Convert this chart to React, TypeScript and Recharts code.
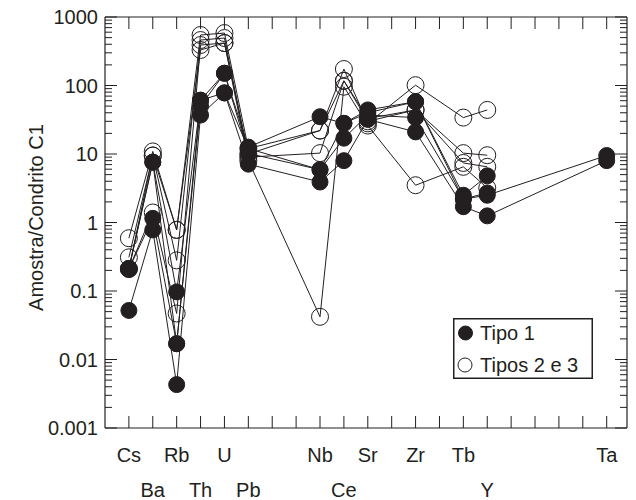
import { Legend, Line, LineChart, ReferenceLine, XAxis, YAxis } from 'recharts'

// Diagrama multielementar normalizado ao condrito C1 — eixo x com posições fixas
// (elementos ausentes deixam lacunas), eixo y logarítmico com marcas menores.

const ELEMENTS = ['Cs', 'Ba', 'Rb', 'Th', 'U', 'Pb', 'Nb', 'Ce', 'Sr', 'Zr', 'Tb', 'Y', 'Ta']
const ELEMENT_POS = [1, 2, 3, 4, 5, 6, 9, 10, 11, 13, 15, 16, 21]
const LOWER_ROW = ['Ba', 'Th', 'Pb', 'Ce', 'Y']
const X_TICKS = [1, 2, 3, 4, 5, 6, 7, 8, 9, 10, 11, 12, 13, 14, 15, 16, 17, 18, 19, 20, 21]
const X_MAX = 21.85
const DECADES = [0.001, 0.01, 0.1, 1, 10, 100, 1000]

// Tipo 1 (símbolos cheios)      Cs     Ba    Rb      Th  U    Pb    Nb   Ce  Sr  Zr  Tb   Y     Ta
const TIPO1_A = [0.21, 7.6, 0.097, 61, 151, 12.6, 35, 28, 44, 58, 2.5, 4.8, null]
const TIPO1_B = [0.21, 1.15, 0.017, 50, 151, 10.2, 5.9, 17, 37, 34, 2.2, 2.5, 9.5]
const TIPO1_C = [0.052, 0.78, 0.0043, 37, 78, 7.1, 3.9, 8, 32, 21, 1.7, 1.25, 8]
const TIPO1_D = [0.21, 7.6, 0.017, 61, 78, 12, 5.9, 28, 40, 58, 2.2, 2.7, null]

// Tipos 2 e 3 (símbolos vazios)
const TIPO23_A = [0.59, 10.9, 0.78, 546, 583, 12, 22, 174, 28, 101, 34, 44, null]
const TIPO23_B = [0.31, 9.5, 0.28, 461, 493, 9, 10.3, 117, 30, 44, 10.3, 9.6, null]
const TIPO23_C = [0.21, 1.4, 0.047, 390, 417, 8, 0.042, 96, 26, 3.5, 6.5, 3.2, null]
const TIPO23_D = [0.21, 9.5, 0.78, 330, 417, 10, 22, 117, 33, 44, 7.4, 6.5, null]

const TIPO1 = [TIPO1_A, TIPO1_B, TIPO1_C, TIPO1_D]
const TIPO23 = [TIPO23_A, TIPO23_B, TIPO23_C, TIPO23_D]

const INK = '#231f20'
const FONT = '"Liberation Sans", Arial, Helvetica, sans-serif'

// geometria: o gráfico cabe na área de conteúdo do body (620 x 492)
const CHART_W = 620
const CHART_H = 492
const MARGIN = { top: 9, right: 1, bottom: 0, left: 0 }
const Y_AXIS_W = 97
const X_AXIS_H = 72
const PLOT_W = CHART_W - MARGIN.left - MARGIN.right - Y_AXIS_W
const PLOT_H = CHART_H - MARGIN.top - MARGIN.bottom - X_AXIS_H

const toPoints = (vals: (number | null)[]) =>
  vals
    .map((v, i) => ({ x: ELEMENT_POS[i], v }))
    .filter((p) => p.v !== null)

// marcas 1..9 por década; só as décadas levam rótulo
const Y_TICKS: number[] = []
DECADES.forEach((d, i) => {
  if (i === DECADES.length - 1) {
    Y_TICKS.push(d)
    return
  }
  for (let k = 1; k <= 9; k++) Y_TICKS.push(Number((d * k).toPrecision(3)))
})

const isDecade = (v: number) => DECADES.some((d) => Math.abs(d - v) / d < 1e-6)

// marca à esquerda + marca espelhada no lado direito da moldura
function LeftTick(props: any) {
  const x = Number(props.x)
  const y = Number(props.y)
  const major = isDecade(props.payload.value)
  const len = major ? 12 : 7
  const xr = x + PLOT_W
  return (
    <g>
      <line x1={x} x2={x + len} y1={y} y2={y} stroke={INK} strokeWidth={1} />
      <line x1={xr} x2={xr - len} y1={y} y2={y} stroke={INK} strokeWidth={1} />
      {major && (
        <text x={x - 7} y={y} dy="0.36em" textAnchor="end" fontSize={20} fontFamily={FONT} fill={INK}>
          {String(props.payload.value)}
        </text>
      )}
    </g>
  )
}

// rótulos alternados em duas linhas, como no original
function BottomTick(props: any) {
  const x = Number(props.x)
  const y = Number(props.y)
  const idx = ELEMENT_POS.indexOf(props.payload.value)
  const name = idx >= 0 ? ELEMENTS[idx] : null
  const lower = name !== null && LOWER_ROW.includes(name)
  const yt = y - PLOT_H
  return (
    <g>
      <line x1={x} x2={x} y1={y} y2={y - 12} stroke={INK} strokeWidth={1} />
      <line x1={x} x2={x} y1={yt} y2={yt + 12} stroke={INK} strokeWidth={1} />
      {name && (
        <text x={x} y={y + (lower ? 62 : 27)} dy="0.36em" textAnchor="middle" fontSize={20} fontFamily={FONT} fill={INK}>
          {name}
        </text>
      )}
    </g>
  )
}

function YTitle(props: any) {
  const vb = props.viewBox
  const cx = vb.x + 28
  const cy = vb.y + vb.height / 2 - 5
  return (
    <text
      x={cx}
      y={cy}
      transform={`rotate(-90 ${cx} ${cy})`}
      textAnchor="middle"
      dy="0.36em"
      fontSize={20}
      fontFamily={FONT}
      fill={INK}
    >
      Amostra/Condrito C1
    </text>
  )
}

function LegendBox() {
  return (
    <svg width={140} height={61} style={{ display: 'block' }}>
      <rect x={0.75} y={0.75} width={138.5} height={59.5} fill="#fff" stroke={INK} strokeWidth={1.5} />
      <circle cx={12.5} cy={15} r={7} fill={INK} stroke={INK} />
      <text x={27} y={15} dy="0.36em" fontSize={20} fontFamily={FONT} fill={INK}>
        Tipo 1
      </text>
      <circle cx={12} cy={47} r={7} fill="none" stroke={INK} />
      <text x={27} y={47} dy="0.36em" fontSize={20} fontFamily={FONT} fill={INK}>
        Tipos 2 e 3
      </text>
    </svg>
  )
}

export default function App() {
  return (
    <LineChart width={CHART_W} height={CHART_H} margin={MARGIN}>
      <XAxis
        type="number"
        dataKey="x"
        domain={[0, X_MAX]}
        ticks={X_TICKS}
        interval={0}
        tickSize={0}
        tickMargin={0}
        tickLine={false}
        height={X_AXIS_H}
        tick={<BottomTick />}
        axisLine={{ stroke: INK, strokeWidth: 1.2 }}
        allowDataOverflow
      />
      <YAxis
        type="number"
        scale="log"
        domain={[0.001, 1000]}
        ticks={Y_TICKS}
        interval={0}
        tickSize={0}
        tickMargin={0}
        tickLine={false}
        width={Y_AXIS_W}
        tick={<LeftTick />}
        axisLine={{ stroke: INK, strokeWidth: 1.2 }}
        label={<YTitle />}
        allowDataOverflow
      />
      {/* moldura: lados de cima e da direita */}
      <ReferenceLine y={1000} stroke={INK} strokeWidth={1.2} ifOverflow="visible" />
      <ReferenceLine x={X_MAX} stroke={INK} strokeWidth={1.2} ifOverflow="visible" />
      <Legend
        layout="vertical"
        align="center"
        verticalAlign="middle"
        content={<LegendBox />}
        wrapperStyle={{ left: 444.7, top: 310, width: 140 }}
      />
      {TIPO23.map((s, i) => (
        <Line
          key={`t23-${i}`}
          data={toPoints(s)}
          dataKey="v"
          stroke={INK}
          strokeWidth={1}
          dot={{ r: 8.5, fill: 'none', stroke: INK, strokeWidth: 1 }}
          activeDot={false}
          isAnimationActive={false}
          legendType="none"
        />
      ))}
      {TIPO1.map((s, i) => (
        <Line
          key={`t1-${i}`}
          data={toPoints(s)}
          dataKey="v"
          stroke={INK}
          strokeWidth={1}
          dot={{ r: 8, fill: INK, stroke: INK, strokeWidth: 1 }}
          activeDot={false}
          isAnimationActive={false}
          legendType="none"
        />
      ))}
    </LineChart>
  )
}
